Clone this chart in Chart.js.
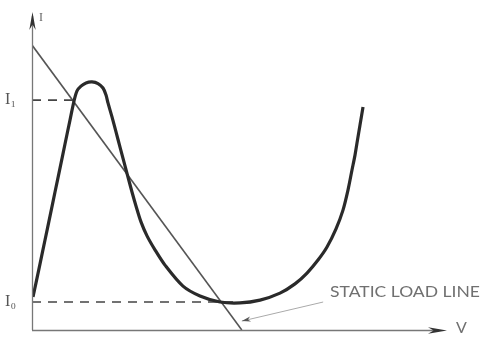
<!DOCTYPE html>
<html lang="en">
<head>
    <meta charset="UTF-8">
    <script src="https://cdn.jsdelivr.net/npm/chart.js@4.4.3/dist/chart.umd.min.js"></script>
    <style>
        html, body { margin: 0; padding: 0; background: #fff; }
        #wrap { width: 480px; height: 338px; }
    </style>
</head>
<body>
    <div id="wrap"><canvas id="c"></canvas></div>
    <script>
        // characteristic curve, V / I in arbitrary units (0..100)
        let curve_v = [0.24, 0.97, 1.94, 3.15, 4.36, 5.57, 6.78, 7.99, 9.20, 10.17, 10.90, 11.86, 13.08, 14.53,
            15.98, 17.19, 17.92, 18.40, 19.37, 20.34, 21.31, 22.28, 23.24, 24.21, 25.18, 26.39, 27.85, 29.78,
            32.20, 36.56, 40.68, 45.52, 50.36, 55.21, 60.05, 63.68, 66.59, 69.25, 71.43, 73.61, 75.30, 76.51,
            77.48, 78.21, 78.69, 79.42, 80.15];
        let curve_i = [10.4, 14.8, 20.8, 28.3, 35.8, 43.4, 50.9, 58.5, 66.0, 72.0, 75.2, 76.7, 77.7, 78.0,
            77.5, 76.1, 73.9, 71.4, 67.0, 62.3, 57.5, 52.8, 48.1, 43.4, 39.0, 34.0, 29.6, 25.2,
            20.4, 13.8, 10.7, 8.8, 8.5, 9.4, 11.6, 14.5, 17.9, 22.0, 26.1, 31.8, 37.7, 44.0,
            50.3, 55.0, 58.8, 64.5, 70.1];

        // static load line end points
        let load_v = [0, 50.8];
        let load_i = [89.6, 0];

        // dashed level lines
        let I1 = 72.3, I0 = 8.8;
        let I1_end_v = 10.2, I0_end_v = 49.2;

        let y_tick_values = [I0, I1];
        let y_tick_labels = ["I\u2080", "I\u2081"];

        // annotation pointer
        let note_v = [70.5, 50.8];
        let note_i = [8.8, 2.8];
        let note_text = "STATIC LOAD LINE";

        const pts = (xs, ys) => xs.map((x, i) => ({ x: x, y: ys[i] }));

        function arrow_head(ctx, x1, y1, x2, y2, len, half) {
            let a = Math.atan2(y2 - y1, x2 - x1);
            ctx.beginPath();
            ctx.moveTo(x2, y2);
            ctx.lineTo(x2 - len * Math.cos(a) + half * Math.sin(a), y2 - len * Math.sin(a) - half * Math.cos(a));
            ctx.lineTo(x2 - len * Math.cos(a) * 0.7, y2 - len * Math.sin(a) * 0.7);
            ctx.lineTo(x2 - len * Math.cos(a) - half * Math.sin(a), y2 - len * Math.sin(a) + half * Math.cos(a));
            ctx.closePath();
            ctx.fill();
        }

        let decor = {
            id: "decor",
            afterDraw(chart) {
                let ctx = chart.ctx;
                let a = chart.chartArea;
                let xs = chart.scales.x, ys = chart.scales.y;
                ctx.save();
                // axes
                ctx.strokeStyle = "#777";
                ctx.fillStyle = "#333";
                ctx.lineWidth = 1.3;
                ctx.beginPath();
                ctx.moveTo(a.left + 0.5, a.bottom);
                ctx.lineTo(a.left + 0.5, a.top + 4);
                ctx.moveTo(a.left, a.bottom + 0.5);
                ctx.lineTo(a.right - 6, a.bottom + 0.5);
                ctx.stroke();
                arrow_head(ctx, a.left + 0.5, a.bottom, a.left + 0.5, a.top, 18, 3.2);
                arrow_head(ctx, a.left, a.bottom + 0.5, a.right + 2, a.bottom + 0.5, 19, 3.2);

                // annotation arrow head
                ctx.fillStyle = "#555";
                arrow_head(ctx, xs.getPixelForValue(note_v[0]), ys.getPixelForValue(note_i[0]),
                    xs.getPixelForValue(note_v[1]), ys.getPixelForValue(note_i[1]), 9, 2.5);

                // texts
                ctx.fillStyle = "#707070";
                ctx.textBaseline = "middle";
                ctx.font = "15px Lato";
                ctx.textAlign = "left";
                let w = ctx.measureText(note_text).width;
                ctx.save();
                ctx.translate(330, 292);
                ctx.scale(150 / w, 1);
                ctx.fillText(note_text, 0, 0);
                ctx.restore();
                ctx.font = "16px Lato";
                ctx.fillText("V", 456, 328);
                ctx.fillStyle = "#666";
                ctx.font = "12px 'Liberation Serif'";
                ctx.fillText("I", 39, 18);
                ctx.restore();
            }
        };

        let ctx = document.getElementById("c");
        let chartjs = new Chart(ctx, {
            type: "line",
            data: {
                datasets: [
                    {
                        data: pts(curve_v, curve_i),
                        borderColor: "#2a2a2a",
                        borderWidth: 3.2,
                        tension: 0.3,
                        pointRadius: 0
                    },
                    {
                        data: pts(load_v, load_i),
                        borderColor: "#555",
                        borderWidth: 1.6,
                        pointRadius: 0
                    },
                    {
                        data: pts([0, I1_end_v], [I1, I1]),
                        borderColor: "#444",
                        borderWidth: 1.6,
                        borderDash: [9, 7],
                        pointRadius: 0
                    },
                    {
                        data: pts([0, I0_end_v], [I0, I0]),
                        borderColor: "#444",
                        borderWidth: 1.6,
                        borderDash: [9, 7],
                        pointRadius: 0
                    },
                    {
                        data: pts(note_v, note_i),
                        borderColor: "#aaa",
                        borderWidth: 1,
                        pointRadius: 0
                    }
                ]
            },
            plugins: [decor],
            options: {
                responsive: true,
                maintainAspectRatio: false,
                animation: false,
                layout: { padding: { top: 12, right: 35, left: 0, bottom: 8 } },
                plugins: { legend: { display: false }, tooltip: { enabled: false } },
                scales: {
                    x: {
                        type: "linear",
                        min: 0,
                        max: 100,
                        display: false
                    },
                    y: {
                        type: "linear",
                        min: 0,
                        max: 100,
                        grid: { display: false },
                        border: { display: false },
                        afterBuildTicks: s => { s.ticks = y_tick_values.map(v => ({ value: v })); },
                        ticks: {
                            padding: 8,
                            color: "#555",
                            font: { family: "'Liberation Serif'", size: 16 },
                            callback: v => y_tick_labels[y_tick_values.indexOf(v)]
                        },
                        afterFit: s => { s.width = 32; s.paddingTop = 0; s.paddingBottom = 0; }
                    }
                }
            }
        });
    </script>
</body>
</html>
